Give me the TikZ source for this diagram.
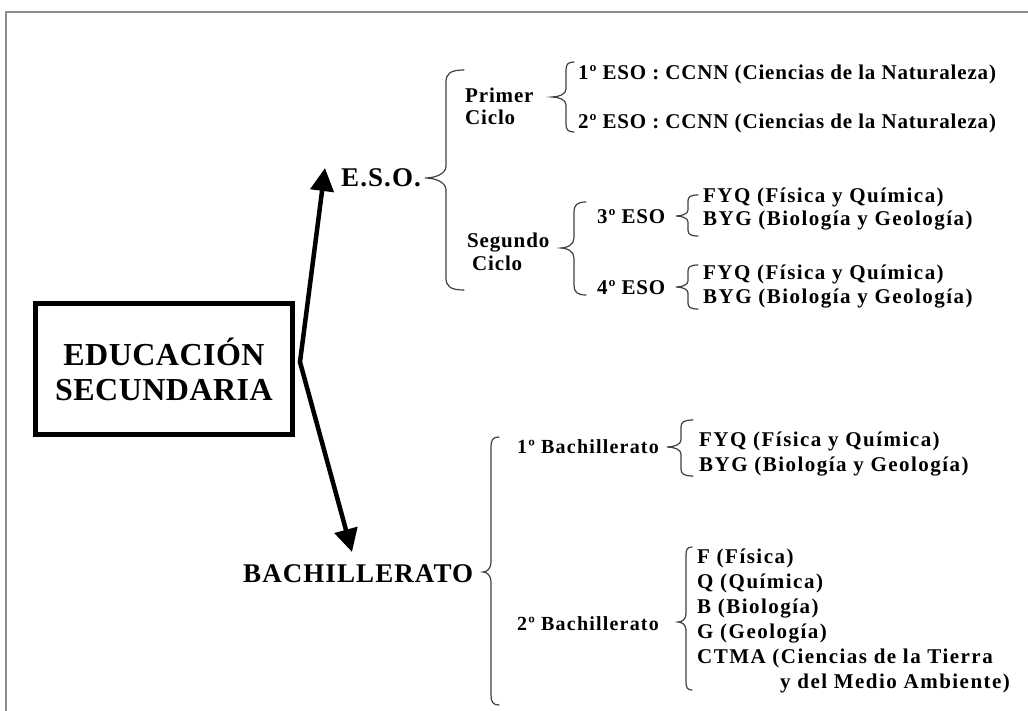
\documentclass[tikz,border=0pt]{standalone}
\usepackage{fontspec}
\setmainfont{Liberation Serif}
\newfontfamily\lblfont[LetterSpace=4]{Liberation Serif}
\newfontfamily\subfont[LetterSpace=6]{Liberation Serif}
\newfontfamily\widefont[LetterSpace=7]{Liberation Serif}
\newfontfamily\headfont[LetterSpace=4]{Liberation Serif}
\newfontfamily\boxfont[LetterSpace=1.5]{Liberation Serif}
\usetikzlibrary{arrows.meta}

% curly brace opening to the right:
% #1 spine x, #2 top y, #3 tip y, #4 bottom y, #5 end curl width, #6 tip depth, #7 curl height
\newcommand\groupbrace[7]{%
  \draw[bracestyle]
    ({#1+#5},#2) .. controls ({#1+0.25*#5},#2) and (#1,{#2+0.3*#7}) .. (#1,{#2+#7})
    -- (#1,{#3-#7})
    .. controls (#1,{#3-0.35*#7}) and ({#1-0.5*#6},#3) .. ({#1-#6},#3)
    .. controls ({#1-0.5*#6},#3) and (#1,{#3+0.35*#7}) .. (#1,{#3+#7})
    -- (#1,{#4-#7})
    .. controls (#1,{#4-0.3*#7}) and ({#1+0.25*#5},#4) .. ({#1+#5},#4);}

\begin{document}
\begin{tikzpicture}[x=1pt,y=-1pt,
  lbl/.style={inner sep=0pt,anchor=base west,
    font=\lblfont\bfseries\fontsize{21}{24}\selectfont},
  sub/.style={inner sep=0pt,anchor=base west,
    font=\subfont\bfseries\fontsize{20}{24}\selectfont},
  wide/.style={inner sep=0pt,anchor=base west,
    font=\widefont\bfseries\fontsize{21}{24}\selectfont},
  head/.style={inner sep=0pt,anchor=base west,
    font=\headfont\bfseries\fontsize{27}{32}\selectfont},
  titlebox/.style={draw,line width=5pt,minimum width=257pt,minimum height=131pt,
    align=center,inner sep=0pt,
    font=\boxfont\bfseries\fontsize{32}{35}\selectfont},
  bracestyle/.style={line width=1.2pt,draw=black!75,line cap=round},
  bigarrow/.style={line width=4.5pt,line join=miter,
    {Triangle[width=23pt,length=23pt]}-{Triangle[width=23pt,length=23pt]}},
  framestyle/.style={draw=black!45,line width=2pt}]

\useasboundingbox (0,0) rectangle (1028,711);
\fill[white] (0,0) rectangle (1028,711);

% page frame
\draw[framestyle] (5,12) -- (1028,12);
\draw[framestyle] (6,12) -- (6,711);

% title box
\node[titlebox] (box) at (164,369) {EDUCACIÓN\\SECUNDARIA};

% the two main branches
\node[head] (eso) at (341,187) {E.S.O.};
\node[head] (bach) at (243,582) {BACHILLERATO};

\coordinate (bend) at ([shift={(5,-7)}]box.east);
\coordinate (esotip) at (325,168);
\coordinate (bachtip) at (352,552);
\draw[bigarrow] (esotip) -- (bend) -- (bachtip);

% E.S.O.
\groupbrace{446}{70}{178}{290}{18}{21}{12}
\node[lbl] (primer) at (465,103) {Primer};
\node[lbl] (ciclo1) at (465,125) {Ciclo};
\node[lbl] (segundo) at (467,248) {Segundo};
\node[lbl] (ciclo2) at (472,271) {Ciclo};

\groupbrace{566}{62}{97}{132}{8}{14}{8}
\node[lbl] (eso1) at (578,80) {1º ESO : CCNN (Ciencias de la Naturaleza)};
\node[lbl] (eso2) at (578,129) {2º ESO : CCNN (Ciencias de la Naturaleza)};

\groupbrace{574}{202}{248}{295}{12}{13}{10}
\node[lbl] (eso3) at (597,224) {3º ESO};
\node[lbl] (eso4) at (597,295) {4º ESO};

\groupbrace{688}{195}{216}{236}{10}{12}{6}
\node[wide] (fyq3) at (703,203) {FYQ (Física y Química)};
\node[wide] (byg3) at (703,226) {BYG (Biología y Geología)};

\groupbrace{688}{265}{287}{309}{10}{12}{6}
\node[wide] (fyq4) at (703,280) {FYQ (Física y Química)};
\node[wide] (byg4) at (703,304) {BYG (Biología y Geología)};

% Bachillerato
\groupbrace{491}{437}{572}{705}{8}{8}{10}
\node[sub] (bach1) at (517,453) {1º Bachillerato};
\node[sub] (bach2) at (517,630) {2º Bachillerato};

\groupbrace{681}{420}{447}{476}{12}{14}{7}
\node[wide] (fyqb) at (699,446) {FYQ (Física y Química)};
\node[wide] (bygb) at (699,471) {BYG (Biología y Geología)};

\groupbrace{686}{547}{622}{690}{6}{8}{8}
\node[wide] (fis) at (697,563) {F (Física)};
\node[wide] (qui) at (697,588) {Q (Química)};
\node[wide] (bio) at (697,613) {B (Biología)};
\node[wide] (geo) at (697,638) {G (Geología)};
\node[wide] (ctma) at (697,663) {CTMA (Ciencias de la Tierra};
\node[wide] (ctmb) at (780,688) {y del Medio Ambiente)};

\end{tikzpicture}
\end{document}
